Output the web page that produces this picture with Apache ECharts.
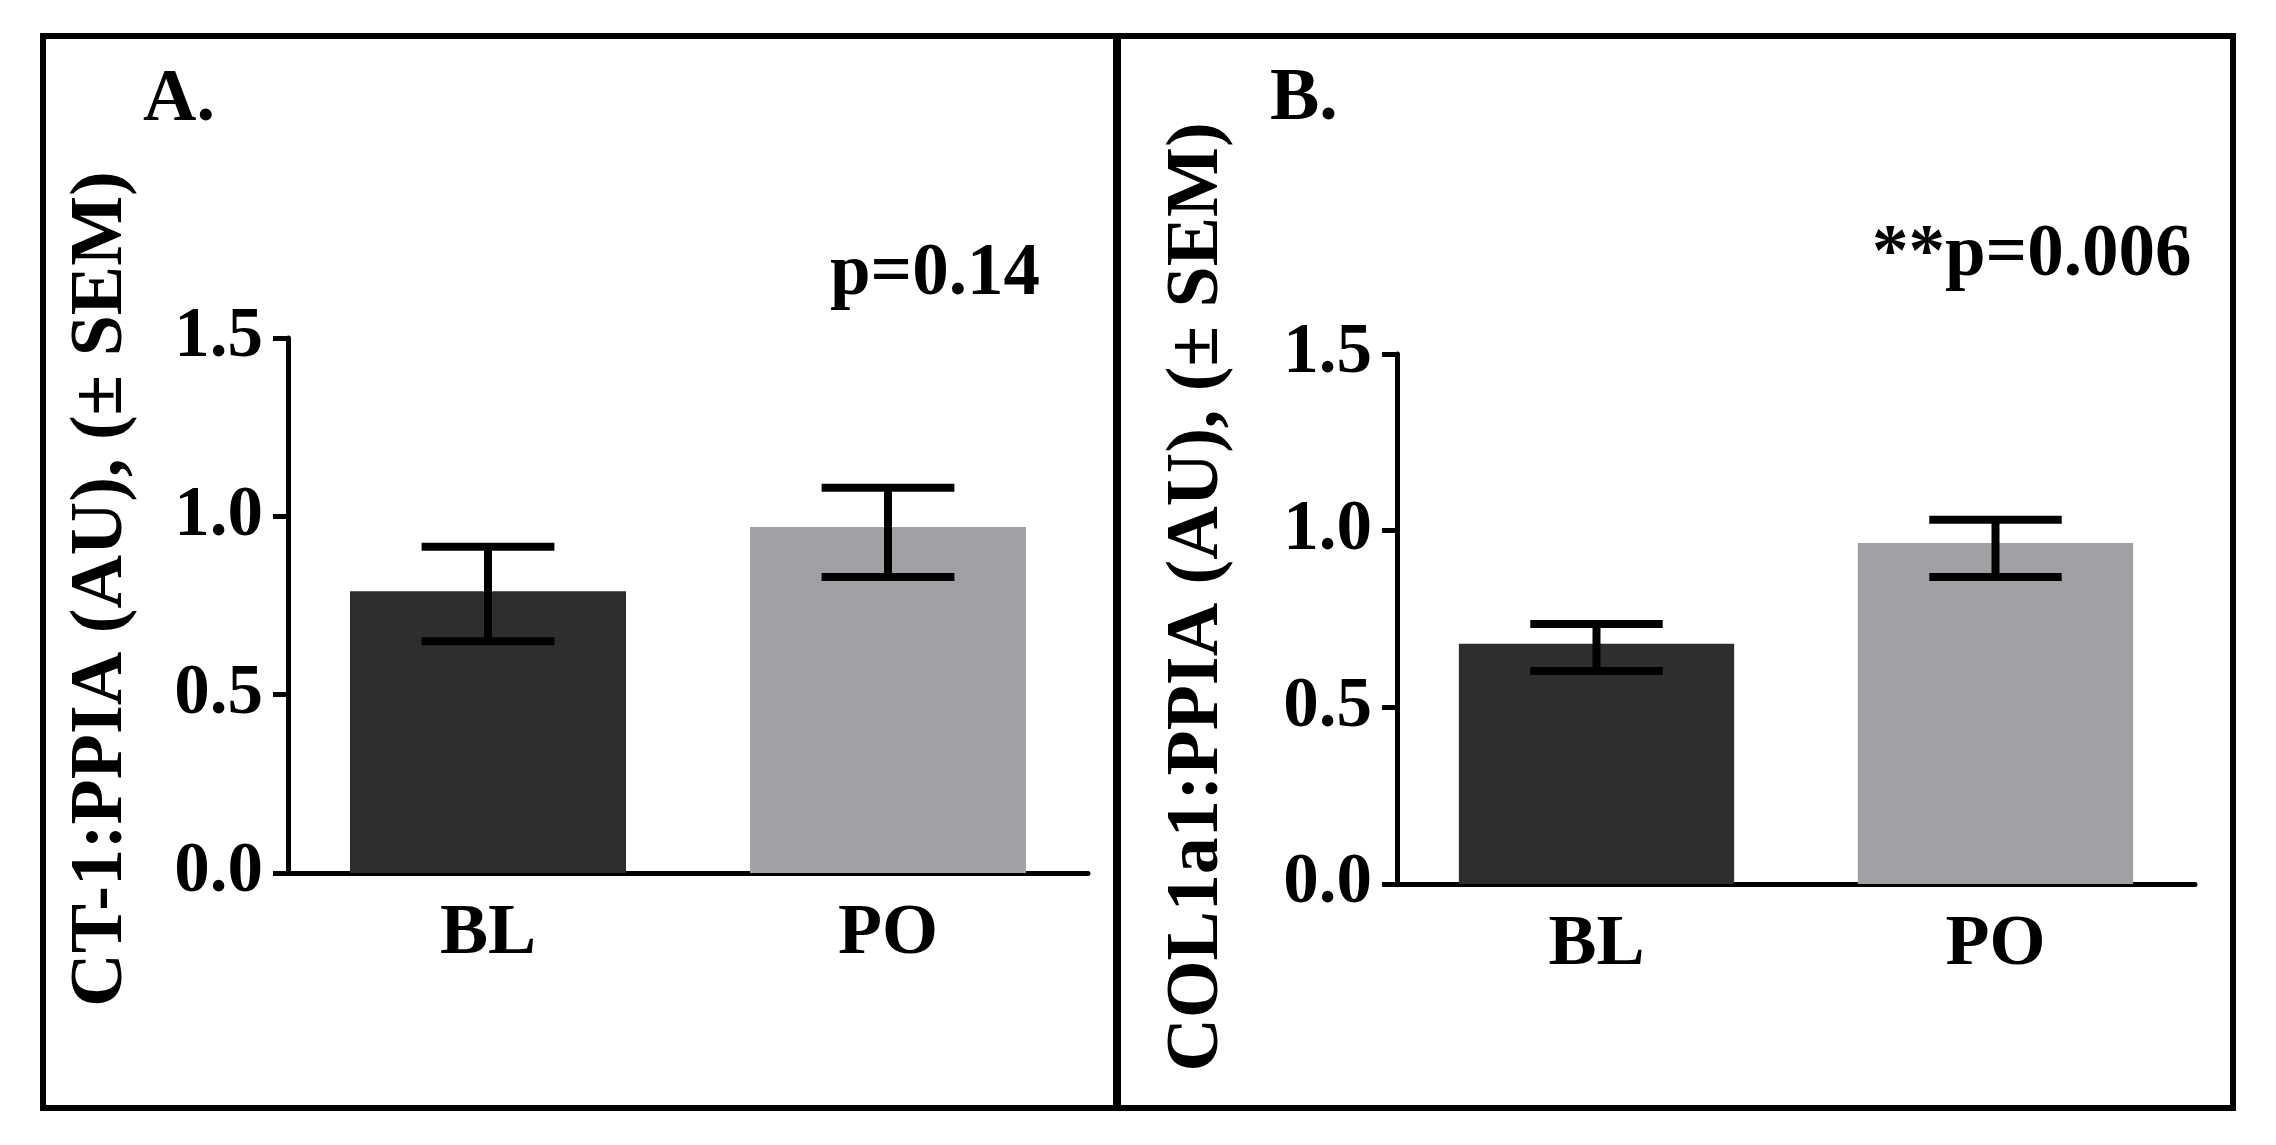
<!DOCTYPE html>
<html>
<head>
<meta charset="utf-8">
<script src="https://cdn.jsdelivr.net/npm/echarts@6/dist/echarts.min.js"></script>
<style>
  html, body { margin: 0; padding: 0; background: #fff; }
  #chart { width: 2276px; height: 1145px; }
</style>
</head>
<body>
<div id="chart"></div>
<script>
// 数据
var groups = ['BL', 'PO'];
var ct1Mean = [0.79, 0.97];
var ct1Low = [0.65, 0.83];
var ct1High = [0.915, 1.08];
var colMean = [0.68, 0.965];
var colLow = [0.603, 0.869];
var colHigh = [0.736, 1.031];
var yTicks = [0.0, 0.5, 1.0, 1.5];
var barColors = ['#2e2e2e', '#a1a1a5'];

var FONT = '"Liberation Serif", "Times New Roman", serif';

(function () {
  var myChart = echarts.init(document.getElementById('chart'));

  // 误差线
  function errorItem(params, api) {
    var x = api.value(0);
    var hi = api.coord([x, api.value(2)]);
    var lo = api.coord([x, api.value(1)]);
    var half = api.size([1, 0])[0] * 0.166;
    var st = { stroke: '#000', lineWidth: 8 };
    return {
      type: 'group',
      children: [
        { type: 'line', shape: { x1: hi[0], y1: hi[1], x2: lo[0], y2: lo[1] }, style: st },
        { type: 'line', shape: { x1: hi[0] - half, y1: hi[1], x2: hi[0] + half, y2: hi[1] }, style: st },
        { type: 'line', shape: { x1: lo[0] - half, y1: lo[1], x2: lo[0] + half, y2: lo[1] }, style: st }
      ]
    };
  }

  function barData(mean) {
    return mean.map(function (v, i) {
      return { value: v, itemStyle: { color: barColors[i] } };
    });
  }

  function errData(low, high) {
    return low.map(function (v, i) {
      return [i, v, high[i]];
    });
  }

  function xAxis(idx) {
    return {
      type: 'category',
      gridIndex: idx,
      data: groups,
      axisLine: { lineStyle: { color: '#000', width: 5 } },
      axisTick: { alignWithLabel: true, length: 14, lineStyle: { color: '#000', width: 5 } },
      axisLabel: { color: '#000', fontFamily: FONT, fontWeight: 'bold', fontSize: 72, margin: 25 }
    };
  }

  function yAxis(idx) {
    return {
      type: 'value',
      gridIndex: idx,
      min: yTicks[0],
      max: yTicks[yTicks.length - 1],
      interval: yTicks[1] - yTicks[0],
      splitLine: { show: false },
      axisLine: { show: true, lineStyle: { color: '#000', width: 5 } },
      axisTick: { show: true, length: 15, lineStyle: { color: '#000', width: 5 } },
      axisLabel: {
        color: '#000', fontFamily: FONT, fontWeight: 'bold', fontSize: 71, margin: 25,
        formatter: function (v) { return v.toFixed(1); }
      }
    };
  }

  function txt(x, y, s, size, align, rot) {
    return {
      type: 'text', x: x, y: y, rotation: rot || 0, z: 10,
      style: {
        text: s, fill: '#000', fontFamily: FONT, fontWeight: 'bold', fontSize: size,
        textAlign: align || 'left', textVerticalAlign: 'middle'
      }
    };
  }

  var option = {
    animation: false,
    backgroundColor: '#fff',
    grid: [
      { left: 288, top: 338, width: 800, height: 535 },
      { left: 1397, top: 354, width: 798, height: 530 }
    ],
    xAxis: [xAxis(0), xAxis(1)],
    yAxis: [yAxis(0), yAxis(1)],
    series: [
      { type: 'bar', xAxisIndex: 0, yAxisIndex: 0, barWidth: '69%', data: barData(ct1Mean) },
      { type: 'bar', xAxisIndex: 1, yAxisIndex: 1, barWidth: '69%', data: barData(colMean) },
      { type: 'custom', xAxisIndex: 0, yAxisIndex: 0, z: 5, renderItem: errorItem, data: errData(ct1Low, ct1High) },
      { type: 'custom', xAxisIndex: 1, yAxisIndex: 1, z: 5, renderItem: errorItem, data: errData(colLow, colHigh) }
    ],
    graphic: [
      // 外框与分隔线
      { type: 'rect', shape: { x: 43, y: 36, width: 2190, height: 1072 }, style: { fill: 'transparent', stroke: '#000', lineWidth: 6 } },
      { type: 'line', shape: { x1: 1117, y1: 36, x2: 1117, y2: 1108 }, style: { stroke: '#000', lineWidth: 8 } },
      txt(143, 101, 'A.', 74),
      txt(1270, 100, 'B.', 74),
      txt(830, 275, 'p=0.14', 73),
      txt(1872, 256, '**p=0.006', 73),
      txt(102, 589, 'CT-1:PPIA (AU), (\u00b1 SEM)', 74, 'center', Math.PI / 2),
      txt(1198, 597, 'COL1a1:PPIA (AU), (\u00b1 SEM)', 74, 'center', Math.PI / 2)
    ]
  };

  myChart.setOption(option);
})();
</script>
</body>
</html>
